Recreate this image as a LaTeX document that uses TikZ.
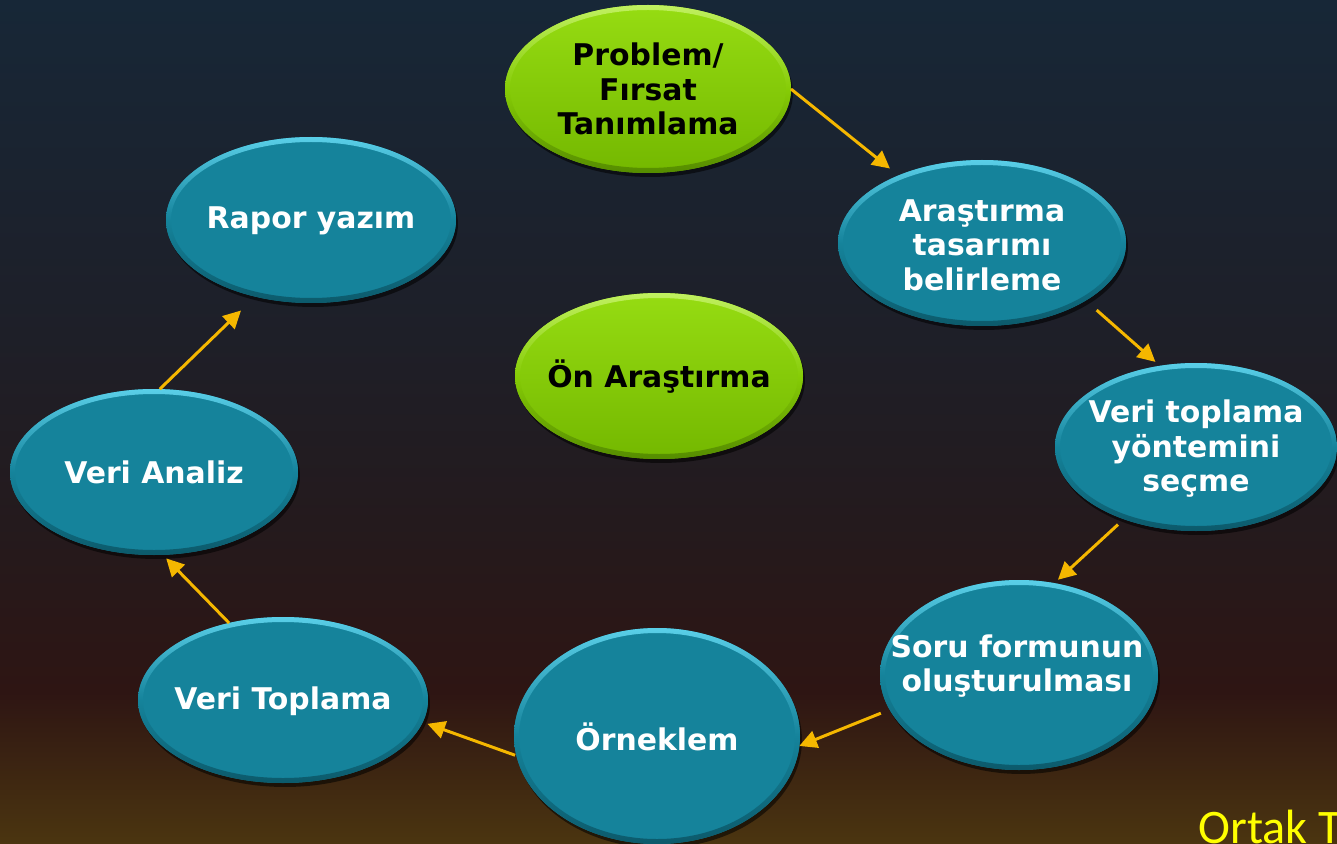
\documentclass[tikz,border=0pt]{standalone}
\usepackage{fontspec}
\setsansfont{DejaVu Sans}
\newfontfamily\carlito{Carlito}
\usetikzlibrary{shapes.geometric,shadows,arrows.meta}

\definecolor{bgA}{HTML}{172737}
\definecolor{bgB}{HTML}{1E1F28}
\definecolor{bgC}{HTML}{241A1D}
\definecolor{bgD}{HTML}{2E1513}
\definecolor{bgE}{HTML}{4B3510}
\definecolor{tealbase}{HTML}{15839B}
\definecolor{tealhi}{HTML}{5ACFE8}
\definecolor{tealdk}{HTML}{0C5A6B}
\definecolor{greentop}{HTML}{96DC12}
\definecolor{greenbase}{HTML}{86CC06}
\definecolor{greenbot}{HTML}{74B800}
\definecolor{greenhi}{HTML}{C0F060}
\definecolor{greendk}{HTML}{558C00}
\definecolor{arrowc}{HTML}{F5B700}
\definecolor{ortakc}{HTML}{FFFF00}

\pgfdeclareverticalshading{bgsh}{100bp}{color(0bp)=(bgE); color(25bp)=(bgE); color(34bp)=(bgD); color(44bp)=(bgC); color(55bp)=(bgB); color(75bp)=(bgA); color(100bp)=(bgA)}

\tikzset{
  bub/.style={ellipse, inner sep=0pt, outer sep=0pt, draw=none,
    drop shadow={shadow xshift=0.04cm, shadow yshift=-0.08cm, opacity=0.55, fill=black}},
  tealbub/.style={bub, fill=tealbase},
  greenbub/.style={bub, top color=greentop, bottom color=greenbot},
  tealrim/.style={top color=tealhi, bottom color=tealdk, middle color=tealbase},
  greenrim/.style={top color=greenhi, bottom color=greendk, middle color=greenbase},
  txt/.style={font=\sffamily\bfseries\fontsize{17}{19.6}\selectfont, align=center, inner sep=0pt},
  tealtxt/.style={txt, text=white},
  greentxt/.style={txt, text=black},
  flow/.style={draw=arrowc, line width=1.7pt, -{Triangle[length=10pt,width=10pt]}},
}

\newcommand\bubble[9]{%
  \node[#6bub, minimum width=#4*0.04cm, minimum height=#5*0.04cm] (#1) at (#2,#3) {};
  \shade[#6rim, even odd rule] (#1.center) ellipse [x radius=#4*0.02cm, y radius=#5*0.02cm]
        (#1.center) ellipse [x radius=#4*0.02cm-0.1cm, y radius=#5*0.02cm-0.1cm];
  \node[#6txt] (#1-t) at (#7,#8) {#9};
}

\begin{document}
\begin{tikzpicture}[x=0.02cm, y=-0.02cm]
\useasboundingbox (0,0) rectangle (1337,844);
\clip (0,0) rectangle (1337,844);
\shade[shading=bgsh] (0,0) rectangle (1337,844);

\bubble{prob}{648}{89}{143}{84}{green}{648}{89}{Problem/\\Fırsat\\Tanımlama}
\bubble{ara}{982}{243}{144}{83}{teal}{982}{245}{Araştırma\\tasarımı\\belirleme}
\bubble{vb}{1196}{447}{141}{84}{teal}{1196}{449}{Veri toplama\\yöntemini\\seçme}
\bubble{soru}{1019}{675}{139}{95}{teal}{1017}{666}{Soru formunun\\oluşturulması}
\bubble{orn}{657}{736}{143}{108}{teal}{657}{737}{Örneklem}
\bubble{vt}{283}{700}{145}{83}{teal}{283}{701}{Veri Toplama}
\bubble{va}{154}{472}{144}{83}{teal}{154}{472}{Veri Analiz}
\bubble{rap}{311}{220}{145}{83}{teal}{311}{221}{Rapor yazım}
\bubble{on}{659}{376}{144}{83}{green}{659}{377}{Ön Araştırma}

\draw[flow, shorten >=0.22cm] (prob.0) -- (ara.141);
\draw[flow, shorten <=0.29cm, shorten >=0.12cm] (ara.-29) -- (vb.114);
\draw[flow, shorten <=0.16cm, shorten >=0.1cm] (vb.225) -- (soru.69);
\draw[flow, shorten <=0.19cm] (soru.195) -- (orn.-4);
\draw[flow, shorten <=0.03cm, shorten >=0.1cm] (orn.188) -- (vt.-9);
\draw[flow, shorten >=0.1cm] (vt.125) -- (va.-84);
\draw[flow, shorten >=0.4cm] (va.86) -- (rap.234);

\node[anchor=base west, inner sep=0pt, text=ortakc, font=\carlito\fontsize{27.4}{30}\selectfont] (ortak) at (1198,843) {Ortak T};
\end{tikzpicture}
\end{document}
